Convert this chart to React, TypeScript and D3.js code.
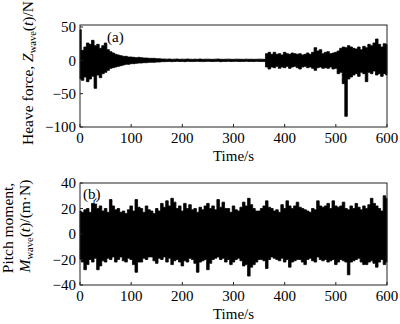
import * as d3 from 'd3';

// time grid, 5 s steps from 0 to 600 s
const timeS = d3.range(0, 601, 5);

const timeTicks = [0, 100, 200, 300, 400, 500, 600];
const heaveTicks = [-100, -50, 0, 50];
const pitchTicks = [-40, -20, 0, 20, 40];

// heave force envelope (upper / lower peaks per 5 s), N
const heaveUpper = [
  46, 15, 20, 26, 24, 30, 22, 24, 18, 22, 26, 16, 13, 11, 9, 8, 7, 6, 6, 5,
  5, 4.5, 4, 4.5, 4, 3.5, 3.5, 3, 3, 3, 2.5, 2.5, 2, 2, 1.8, 2, 1.6, 1.8, 2, 1.5,
  1.8, 1.6, 2, 1.7, 1.5, 1.8, 1.6, 2, 1.5, 1.7, 1.8, 1.6, 1.5, 1.8, 2, 1.6, 1.5, 1.7, 1.8, 1.6,
  1.5, 1.8, 1.7, 1.6, 1.5, 1.8, 1.6, 1.7, 1.5, 1.6, 1.8, 1.7, 1.6, 10, 12, 9, 12, 9, 10, 8,
  12, 10, 9, 11, 10, 9, 10, 8, 9, 11, 9, 12, 19, 14, 16, 10, 12, 13, 10, 11,
  12, 14, 18, 20, 19, 22, 20, 18, 17, 20, 16, 21, 19, 24, 22, 26, 32, 24, 20, 25,
  24,
];
const heaveLower = [
  -28, -30, -25, -32, -28, -24, -42, -22, -26, -20, -18, -15, -12, -11, -10, -9, -8, -7, -6, -6,
  -5, -5, -4.5, -4, -4, -3.5, -3.5, -3, -3, -3, -2.5, -2.5, -2, -2, -1.8, -1.6, -2, -1.7, -1.5, -1.8,
  -1.6, -2, -1.5, -1.7, -1.8, -1.6, -1.5, -1.8, -1.9, -1.6, -1.5, -1.7, -1.8, -1.6, -1.5, -2, -1.6, -1.7, -1.5, -1.8,
  -1.6, -1.5, -1.7, -1.8, -1.6, -1.5, -1.7, -1.6, -1.8, -1.5, -1.6, -1.7, -1.8, -10, -13, -10, -11, -9, -12, -10,
  -11, -9, -12, -10, -9, -11, -13, -10, -9, -11, -10, -12, -15, -11, -10, -12, -11, -12, -10, -13,
  -12, -20, -18, -35, -84, -28, -25, -22, -20, -24, -18, -20, -32, -18, -20, -16, -22, -20, -24, -20,
  -22,
];

// pitch moment envelope (upper / lower peaks per 5 s), m·N
const pitchUpper = [
  18, 17, 19, 20, 17, 24, 28, 20, 22, 18, 20, 17, 27, 22, 19, 20, 17, 18, 16, 19,
  22, 18, 27, 21, 20, 17, 22, 19, 18, 16, 20, 18, 24, 21, 26, 22, 28, 25, 20, 22,
  18, 24, 20, 23, 19, 20, 17, 21, 19, 22, 24, 20, 22, 19, 27, 21, 25, 20, 20, 17,
  22, 19, 18, 21, 25, 22, 28, 23, 20, 18, 18, 20, 22, 26, 21, 20, 18, 19, 17, 23,
  20, 26, 22, 20, 22, 25, 21, 20, 19, 18, 17, 20, 19, 26, 22, 21, 22, 24, 20, 26,
  22, 21, 22, 25, 20, 19, 22, 20, 24, 21, 19, 22, 20, 23, 28, 24, 22, 20, 18, 30,
  28,
];
const pitchLower = [
  -20, -22, -28, -24, -20, -22, -19, -28, -25, -21, -22, -19, -20, -18, -22, -20, -18, -21, -22, -19,
  -20, -24, -30, -22, -22, -19, -20, -18, -18, -21, -23, -19, -20, -18, -22, -19, -24, -21, -20, -22,
  -25, -21, -22, -19, -20, -23, -30, -22, -21, -20, -28, -23, -20, -19, -18, -20, -19, -22, -20, -24,
  -22, -20, -19, -21, -25, -24, -33, -26, -24, -22, -20, -20, -21, -27, -20, -18, -19, -20, -21, -19,
  -22, -20, -26, -22, -21, -20, -20, -22, -24, -20, -19, -21, -22, -18, -20, -21, -20, -22, -21, -20,
  -24, -22, -20, -21, -22, -32, -22, -21, -20, -19, -22, -24, -24, -22, -21, -23, -26, -22, -20, -24,
  -22,
];

const font = '"Liberation Serif", "Times New Roman", serif';
const axisColor = '#222';

type PanelProps = {
  top: number;
  bottom: number;
  yDomain: [number, number];
  yTicks: number[];
  upper: number[];
  lower: number[];
  tag: string;
  tagX: number;
  tagY: number;
};

const left = 80;
const right = 387;

const Panel = ({ top, bottom, yDomain, yTicks, upper, lower, tag, tagX, tagY }: PanelProps) => {
  const x = d3.scaleLinear().domain([0, 600]).range([left, right]);
  const y = d3.scaleLinear().domain(yDomain).range([bottom, top]);

  const rows = timeS.map((t, i) => ({ t, hi: upper[i], lo: lower[i] }));
  const area = d3.area<{ t: number; hi: number; lo: number }>()
    .x(d => x(d.t))
    .y0(d => y(d.lo))
    .y1(d => y(d.hi))
    .curve(d3.curveStep);

  return (
    <g>
      <path d={area(rows) || ''} fill="#000" stroke="#000" strokeWidth={0.8} />
      <rect x={left} y={top} width={right - left} height={bottom - top}
        fill="none" stroke={axisColor} strokeWidth={1} />
      {yTicks.map(v => (
        <g key={'y' + v}>
          <line x1={left} x2={left + 3} y1={y(v)} y2={y(v)} stroke={axisColor} />
          <text x={left - 4} y={y(v)} dy="0.35em" textAnchor="end"
            fontFamily={font} fontSize={15}>{v < 0 ? '\u2212' + Math.abs(v) : v}</text>
        </g>
      ))}
      {timeTicks.map(v => (
        <g key={'x' + v}>
          <line x1={x(v)} x2={x(v)} y1={bottom} y2={bottom - 3} stroke={axisColor} />
          <text x={x(v)} y={bottom + 16} textAnchor="middle"
            fontFamily={font} fontSize={15}>{v}</text>
        </g>
      ))}
      <text x={(left + right) / 2} y={bottom + 34} textAnchor="middle"
        fontFamily={font} fontSize={15}>Time/s</text>
      <text x={tagX} y={tagY} fontFamily={font} fontSize={15}
        stroke="#fff" strokeWidth={3} paintOrder="stroke" strokeLinejoin="round">{tag}</text>
    </g>
  );
};

export default function App() {
  return (
    <svg width={400} height={324} style={{ position: 'absolute', left: 0, top: 0, background: '#fff' }}>
      <rect width={400} height={324} fill="#fff" />
      <Panel top={25} bottom={127} yDomain={[-100, 53]} yTicks={heaveTicks}
        upper={heaveUpper} lower={heaveLower} tag="(a)" tagX={107} tagY={42} />
      <Panel top={183} bottom={285} yDomain={[-40, 40]} yTicks={pitchTicks}
        upper={pitchUpper} lower={pitchLower} tag="(b)" tagX={83} tagY={199} />

      <text transform="translate(33,73) rotate(-90)" textAnchor="middle" fontFamily={font} fontSize={15.5}>
        Heave force, <tspan fontStyle="italic">Z</tspan>
        <tspan fontSize={10.5} dy={3}>wave</tspan>
        <tspan dy={-3}>(</tspan><tspan fontStyle="italic">t</tspan>)/N
      </text>
      <text transform="translate(13,228) rotate(-90)" textAnchor="middle" fontFamily={font} fontSize={15.5}>
        Pitch moment,
      </text>
      <text transform="translate(30,226) rotate(-90)" textAnchor="middle" fontFamily={font} fontSize={15.5}>
        <tspan fontStyle="italic">M</tspan>
        <tspan fontSize={10.5} dy={3}>wave</tspan>
        <tspan dy={-3}>(</tspan><tspan fontStyle="italic">t</tspan>)/(m{'\u00b7'}N)
      </text>
    </svg>
  );
}
